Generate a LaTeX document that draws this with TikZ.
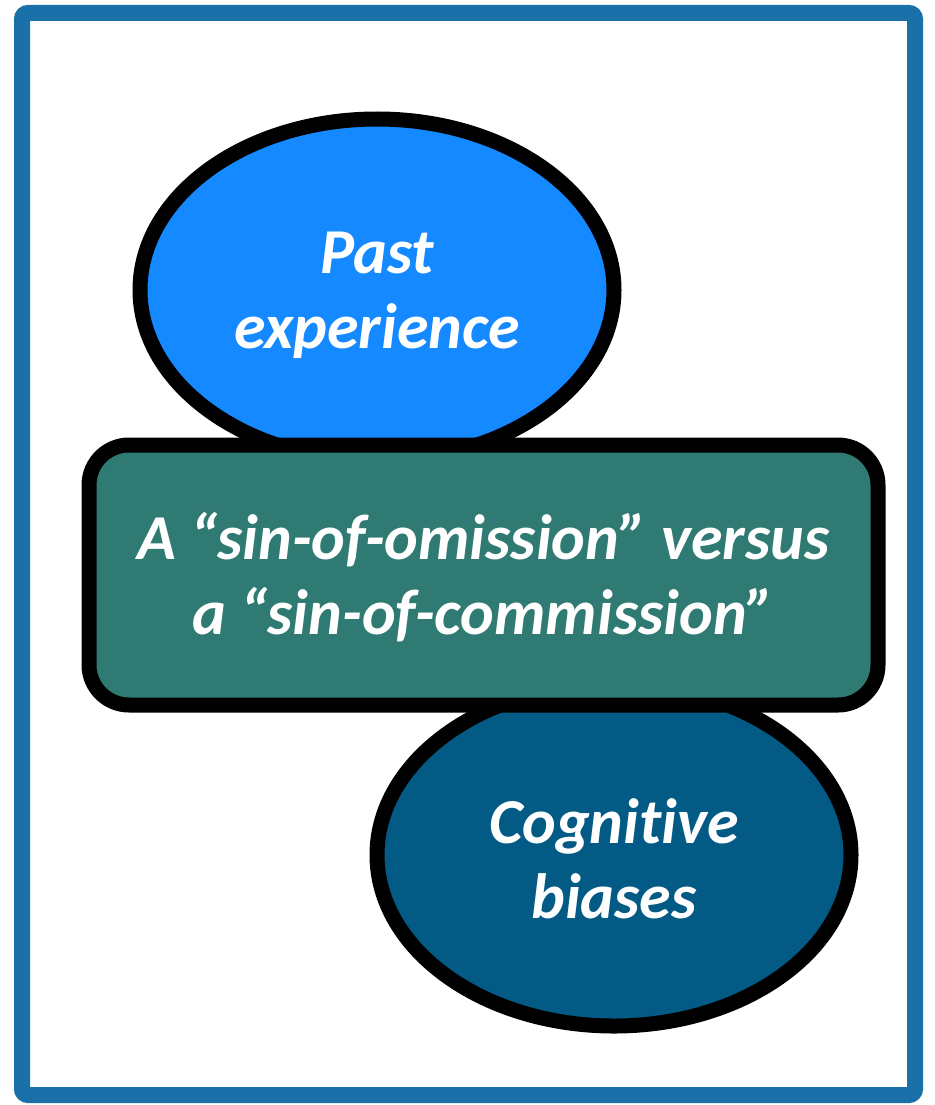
\documentclass[tikz,border=0pt]{standalone}
\usepackage{fontspec}
\setmainfont{Carlito}[Ligatures=NoCommon]
\usepackage{tikz}
\usetikzlibrary{positioning,shapes.geometric}

\definecolor{framecol}{HTML}{1A70A8}
\definecolor{pastcol}{HTML}{1589FF}
\definecolor{sincol}{HTML}{307A74}
\definecolor{biascol}{HTML}{035A85}

\newcommand{\lowertext}{\rule{0pt}{52pt}}

\tikzset{
	bubble/.style={ellipse,draw=black,line width=15pt,minimum width=474pt,minimum height=342pt,inner sep=0pt,text=white,align=center,font=\fontsize{64}{75}\selectfont\bfseries\itshape},
	sinbox/.style={rectangle,rounded corners=40pt,draw=black,line width=15pt,fill=sincol,minimum width=789pt,minimum height=260pt,inner sep=0pt,text=white,align=center,font=\fontsize{64}{75}\selectfont\bfseries\itshape}
}

\begin{document}
\begin{tikzpicture}[x=1pt,y=-1pt]
			\useasboundingbox (0,0) rectangle (934,1105);
			\draw [draw=framecol,line width=16pt,rounded corners=6pt] (22,13) rectangle (915,1095);
			\node[bubble,fill=pastcol] (past) at (377,290) {\lowertext Past\\experience};
			\node[bubble,fill=biascol] (bias) at (614,855) {\lowertext Cognitive\\biases};
			\node[sinbox] (sin) at (483.5,575) {\lowertext A “sin-of-omission” versus\\a “sin-of-commission”};
		\end{tikzpicture}
\end{document}
